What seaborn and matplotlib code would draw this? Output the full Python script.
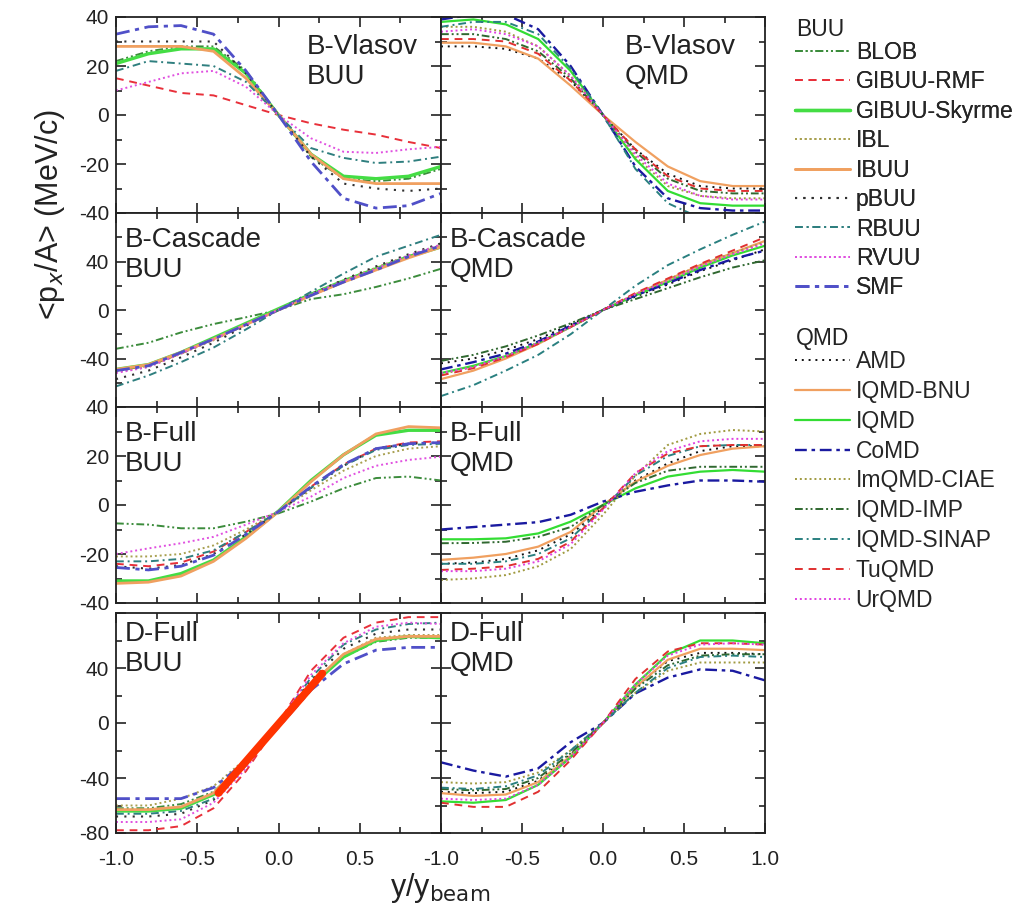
import matplotlib
matplotlib.use("Agg")
import matplotlib.pyplot as plt
import seaborn as sns
import pandas as pd
from matplotlib.lines import Line2D
from matplotlib.ticker import MultipleLocator

sns.set_style("ticks")
plt.rcParams["font.family"] = ["Liberation Sans", "DejaVu Sans"]

# ---------------- data ----------------
y_rap = [-1.0, -0.8, -0.6, -0.4, -0.2, 0.0, 0.2, 0.4, 0.6, 0.8, 1.0]

buu_models = ["BLOB", "GIBUU-RMF", "GIBUU-Skyrme", "IBL", "IBUU", "pBUU", "RBUU", "RVUU", "SMF"]
qmd_models = ["AMD", "IQMD-BNU", "IQMD", "CoMD", "ImQMD-CIAE", "IQMD-IMP", "IQMD-SINAP", "TuQMD", "UrQMD"]

vlasov_buu = {
    "BLOB": [22, 26, 28, 28, 18, 0, -17, -26, -27, -26, -22],
    "GIBUU-RMF": [15, 12, 9, 8, 4, 0, -3.4, -6, -8, -11, -13.5],
    "GIBUU-Skyrme": [21, 25, 27, 27, 17, 0, -16, -25, -26, -25, -21],
    "IBUU": [28, 28, 28, 26, 15, 0, -16, -26, -28, -28, -28],
    "pBUU": [30, 30, 30, 30, 17, 0, -17, -28, -30, -31, -30],
    "RBUU": [18, 22, 21, 20, 13.5, 0, -13.5, -17.5, -19.6, -19, -17],
    "RVUU": [10, 13.5, 17, 18, 11.5, 0, -9.5, -15, -15.5, -14, -13],
    "SMF": [33, 36, 36.5, 33, 18, 0, -19, -34, -38, -37, -32],
}
vlasov_qmd = {
    "AMD": [28, 28, 27, 23, 14, 0, -14, -24, -29, -30, -30],
    "IQMD-BNU": [29.5, 29.5, 28, 23, 12, 0, -11, -21, -27, -29, -29],
    "IQMD": [38, 39, 37, 31, 18, 0, -18, -31, -36, -37, -37],
    "CoMD": [39, 41, 41, 35, 20, 0, -21, -34, -38, -39, -39],
    "ImQMD-CIAE": [36, 36, 34, 28, 16, 0, -17, -29, -33, -34, -34],
    "IQMD-IMP": [33, 33, 31, 26, 15, 0, -15, -26, -31, -32, -32],
    "IQMD-SINAP": [36, 38, 38, 33, 19, 0, -22, -36, -42, -44, -44],
    "TuQMD": [31, 31, 30, 25, 14, 0, -14, -25, -30, -31, -31],
    "UrQMD": [34, 35, 33, 28, 16, 0, -16, -28, -33, -34.5, -34.5],
}
cascade_buu = {
    "BLOB": [-32, -27, -18.5, -11.6, -6, 0, 9, 13, 19, 26, 34],
    "GIBUU-RMF": [-50, -46, -36, -24, -12, 0, 12, 23, 34, 44, 53],
    "GIBUU-Skyrme": [-49, -45, -35, -23, -11, 1, 13, 24, 34, 44, 52],
    "IBL": [-51, -47, -36, -25, -12, 0, 12, 24, 35, 45, 54],
    "IBUU": [-49, -45, -35, -24, -12, 0, 12, 23, 33, 43, 52],
    "pBUU": [-57, -50, -39, -27, -13, 0, 13, 25, 36, 46, 55],
    "RBUU": [-63, -54, -43, -31, -16, 0, 15, 30, 44, 53, 62],
    "RVUU": [-52, -47, -36, -24, -12, 0, 13, 24, 34, 45, 54],
    "SMF": [-50, -46, -35, -24, -12, 0, 12, 23, 33, 44, 53],
}
cascade_qmd = {
    "AMD": [-44, -40, -33, -24, -12, 0, 11, 21, 32, 41, 50],
    "IQMD-BNU": [-57, -50, -40, -28, -14, 0, 13, 25, 37, 47, 57],
    "IQMD": [-52, -46, -38, -27, -14, 0, 12, 23, 35, 45, 53],
    "CoMD": [-49, -43, -36, -26, -13, 0, 12, 22, 33, 42, 49],
    "ImQMD-CIAE": [-53, -47, -38, -27, -14, 0, 13, 25, 37, 47, 56],
    "IQMD-IMP": [-42, -37, -30, -21, -11, 0, 9, 18, 27, 35, 41],
    "IQMD-SINAP": [-71, -62, -50, -37, -20, 0, 20, 37, 50, 62, 73],
    "TuQMD": [-54, -48, -39, -28, -14, 0, 14, 26, 38, 49, 60],
    "UrQMD": [-52, -47, -38, -27, -14, 0, 13, 24, 36, 46, 55],
}
full_buu = {
    "BLOB": [-7.5, -8, -9.5, -9.5, -6.8, -3.4, 1.4, 6.8, 11, 11.6, 10],
    "GIBUU-RMF": [-24, -25, -23.5, -19, -11, -2.5, 7.5, 16.5, 23, 25.5, 26],
    "GIBUU-Skyrme": [-31, -31, -28, -22.5, -13, -2.5, 10, 20.5, 28.5, 30.5, 30.5],
    "IBL": [-21, -21, -20, -16.5, -10, -2.5, 6, 14, 20, 23, 24],
    "IBUU": [-32, -31.5, -29, -23, -13.6, -2.7, 9.5, 20.5, 29, 32, 31.5],
    "pBUU": [-25, -26, -24.5, -20, -12, -2.7, 7, 16, 23, 25, 25.5],
    "RBUU": [-23, -23, -22, -18.5, -11, -2.7, 7, 16, 22.5, 24.5, 25],
    "RVUU": [-20, -17.7, -15.6, -13, -8, -2.7, 3.4, 11, 16, 18.4, 19.7],
    "SMF": [-25.5, -26.5, -25, -20.5, -12, -2.7, 7.5, 16.5, 23, 25, 25.5],
}
full_qmd = {
    "AMD": [-24, -23.5, -22, -18.5, -12, -1, 10, 17, 22, 24, 24],
    "IQMD-BNU": [-22.4, -21.5, -20, -17, -11, 0, 9.5, 16, 20.4, 23, 24],
    "IQMD": [-14, -14, -13.6, -11.6, -6.8, 0, 6.8, 11.6, 13.6, 14.3, 13.6],
    "CoMD": [-10, -9, -8, -7, -4, 1.4, 5.4, 8, 10, 10, 9.5],
    "ImQMD-CIAE": [-30.6, -30, -28.6, -25, -18, -4, 12, 24.5, 29, 30.6, 30],
    "IQMD-IMP": [-15.6, -15.5, -15, -13, -9, 0, 9, 14, 15.6, 15.6, 15.6],
    "IQMD-SINAP": [-24, -24, -23, -20, -13.6, -1.4, 12, 20, 24, 24.5, 24.5],
    "TuQMD": [-26.5, -26, -25, -22, -15, -1.4, 13, 21, 24, 24.5, 24.5],
    "UrQMD": [-27, -27, -26, -23, -16, -2, 13, 22, 26, 27, 27],
}
dfull_buu = {
    "BLOB": [-62, -62, -59, -50, -28, -1, 27, 48, 59, 62, 62],
    "GIBUU-RMF": [-78, -78, -75, -62, -35, 0, 38, 62, 73, 77, 77],
    "GIBUU-Skyrme": [-64, -64, -62, -52, -28, -1, 27, 48, 60, 63, 62],
    "IBL": [-60, -60, -55, -46, -26, 0, 28, 50, 62, 64, 64],
    "IBUU": [-63, -63, -61, -51, -27, 0, 28, 50, 61, 63, 63],
    "pBUU": [-68, -68, -66, -56, -31, 0, 31, 54, 65, 68, 68],
    "RBUU": [-66, -66, -64, -55, -31, 0, 33, 57, 68, 72, 73],
    "RVUU": [-72, -72, -70, -58, -33, 0, 35, 58, 70, 73, 72],
    "SMF": [-55, -55, -55, -47, -28, -3, 24, 43, 53, 55, 55],
}
dfull_qmd = {
    "AMD": [-50, -51, -50, -42, -23, 0, 26, 45, 51, 51, 50],
    "IQMD-BNU": [-51, -53, -52, -43, -24, 0, 26, 46, 54, 54, 53],
    "IQMD": [-57, -58, -56, -45, -25, 0, 28, 50, 60, 60, 58],
    "CoMD": [-28.6, -34.6, -39, -33, -14, 0, 21.5, 33, 39, 38, 31],
    "ImQMD-CIAE": [-43, -44, -43, -36, -20, 0, 22, 38, 44, 44, 44],
    "IQMD-IMP": [-48, -49, -48, -40, -22, 0, 25, 42, 49, 50, 50],
    "IQMD-SINAP": [-47, -48, -46, -38, -20, 0, 22, 40, 48, 49, 48],
    "TuQMD": [-58, -61, -61, -50, -27, 0, 32, 52, 58, 58, 57],
    "UrQMD": [-55, -56, -55, -45, -25, 0, 28, 49, 57, 58, 57],
}
slope_x = [-0.37, 0.27]
slope_y = [-51, 36]

# ---------------- styles ----------------
styles = {
    "BLOB": ("#3c8c3c", (0, (4, 1.5, 1, 1.5, 1, 1.5)), 1.4),
    "GIBUU-RMF": ("#e8303a", (0, (4, 3)), 1.4),
    "GIBUU-Skyrme": ("#44dd44", "-", 2.4),
    "IBL": ("#a8a050", (0, (1, 1.5)), 1.4),
    "IBUU": ("#f0a060", "-", 2.0),
    "pBUU": ("#303030", (0, (1, 3)), 1.5),
    "RBUU": ("#2f7f7f", (0, (4, 2, 1, 2)), 1.4),
    "RVUU": ("#e050e0", (0, (1, 1.5)), 1.4),
    "SMF": ("#5050c8", (0, (5, 2, 1.5, 2)), 2.0),
    "AMD": ("#111111", (0, (1, 2.5)), 1.4),
    "IQMD-BNU": ("#f0a060", "-", 1.6),
    "IQMD": ("#33dd33", "-", 1.6),
    "CoMD": ("#1a1aa0", (0, (5, 2, 1.5, 2)), 1.7),
    "ImQMD-CIAE": ("#a09a40", (0, (1, 1.5)), 1.4),
    "IQMD-IMP": ("#306830", (0, (4, 1.5, 1, 1.5, 1, 1.5)), 1.4),
    "IQMD-SINAP": ("#2a8080", (0, (4, 2, 1, 2)), 1.4),
    "TuQMD": ("#e03030", (0, (4, 3)), 1.4),
    "UrQMD": ("#e040e0", (0, (1, 1.5)), 1.4),
}

W, H = 1029, 917
fig = plt.figure(figsize=(W / 100, H / 100), dpi=100)

def fx(px):
    return px / W

def fy(px):
    return 1 - px / H

col_x = [116, 441]
col_w = [325, 324]
rows = [(17, 213), (213, 407), (407, 603), (613, 833)]
ylims = [(-40, 40), (-80, 80), (-40, 40), (-80, 80)]
ymajor = [[-40, -20, 0, 20, 40], [-80, -40, 0, 40, 80], [-40, -20, 0, 20, 40], [-80, -40, 0, 40, 80]]
ylabels = [["-40", "-20", "0", "20", "40"], ["", "-40", "0", "40", ""],
           ["-40", "-20", "0", "20", "40"], ["-80", "-40", "0", "40", ""]]
yminor = [10, 20, 10, 20]

panels = [
    (vlasov_buu, 0, 0, "B-Vlasov\nBUU"),
    (vlasov_qmd, 0, 1, "B-Vlasov\nQMD"),
    (cascade_buu, 1, 0, "B-Cascade\nBUU"),
    (cascade_qmd, 1, 1, "B-Cascade\nQMD"),
    (full_buu, 2, 0, "B-Full\nBUU"),
    (full_qmd, 2, 1, "B-Full\nQMD"),
    (dfull_buu, 3, 0, "D-Full\nBUU"),
    (dfull_qmd, 3, 1, "D-Full\nQMD"),
]

narrow = ["Liberation Sans Narrow", "Liberation Sans", "DejaVu Sans"]

for data, r, c, label in panels:
    top, bot = rows[r]
    ax = fig.add_axes([fx(col_x[c]), fy(bot), fx(col_w[c]), (bot - top) / H])
    for model, vals in data.items():
        color, ls, lw = styles[model]
        sns.lineplot(x=y_rap, y=vals, ax=ax, color=color, linestyle=ls, lw=lw)
    if r == 3 and c == 0:
        sns.lineplot(x=slope_x, y=slope_y, ax=ax, color="#ff3300", lw=5.5)
    ax.set_xlim(-1, 1)
    ax.set_ylim(*ylims[r])
    ax.xaxis.set_minor_locator(MultipleLocator(0.25))
    ax.yaxis.set_minor_locator(MultipleLocator(yminor[r]))
    if r == 3:
        if c == 0:
            ax.set_xticks([-1, -0.5, 0, 0.5, 1], labels=["-1.0", "-0.5", "0.0", "0.5", ""])
        else:
            ax.set_xticks([-1, -0.5, 0, 0.5, 1], labels=["-1.0", "-0.5", "0.0", "0.5", "1.0"])
    else:
        ax.set_xticks([-1, -0.5, 0, 0.5, 1], labels=[""] * 5)
    if c == 0:
        ax.set_yticks(ymajor[r], labels=ylabels[r])
    else:
        ax.set_yticks(ymajor[r], labels=[""] * 5)
    ax.tick_params(which="both", direction="in", top=True, right=True, width=1.2,
                   labelsize=15, labelfontfamily=narrow, colors="#222222")
    ax.tick_params(axis="y", pad=5)
    ax.tick_params(axis="x", pad=12)
    ax.tick_params(which="major", length=7)
    ax.tick_params(which="minor", length=4)
    for s in ax.spines.values():
        s.set_linewidth(1.3)
        s.set_color("#222222")
    ax.set_xlabel("")
    ax.set_ylabel("")
    if r == 0:
        xpos = (307 - col_x[c]) / col_w[c] if c == 0 else (625 - col_x[c]) / col_w[c]
        ax.text(xpos, 1 - 17 / (bot - top), label, transform=ax.transAxes, ha="left", va="top",
                fontsize=20, linespacing=1.2, color="#222222")
    else:
        off = 14 if r < 3 else 8
        ax.text(0.027, 1 - off / (bot - top), label, transform=ax.transAxes, ha="left", va="top",
                fontsize=20, linespacing=1.2, color="#222222")

fig.text(fx(50), fy(215), r"<p$_x$/A> (MeV/c)", rotation=90, ha="center", va="center",
         fontsize=22, color="#222222")
fig.text(fx(440), fy(888), r"y/y$_{\rm beam}$", ha="center", va="center",
         fontsize=22, color="#222222")

def make_handles(models):
    hs = []
    for m in models:
        color, ls, lw = styles[m]
        hs.append(Line2D([], [], color=color, linestyle=ls, lw=lw))
    return hs

fig.text(fx(796), fy(30), "BUU", ha="left", va="center", fontsize=16.5, color="#222222")
fig.text(fx(796), fy(338), "QMD", ha="left", va="center", fontsize=16.5, color="#222222")

leg1 = fig.legend(make_handles(buu_models), buu_models, loc="upper left",
                  bbox_to_anchor=(fx(795), fy(41)), frameon=False, fontsize=16.5,
                  handlelength=2.4, handletextpad=0.25,
                  labelspacing=0.28, borderpad=0, borderaxespad=0)
leg2 = fig.legend(make_handles(qmd_models), qmd_models, loc="upper left",
                  bbox_to_anchor=(fx(795), fy(350)), frameon=False, fontsize=16.5,
                  handlelength=2.4, handletextpad=0.25,
                  labelspacing=0.30, borderpad=0, borderaxespad=0)
fig.add_artist(leg1)

fig.savefig("out.png", dpi=100)
